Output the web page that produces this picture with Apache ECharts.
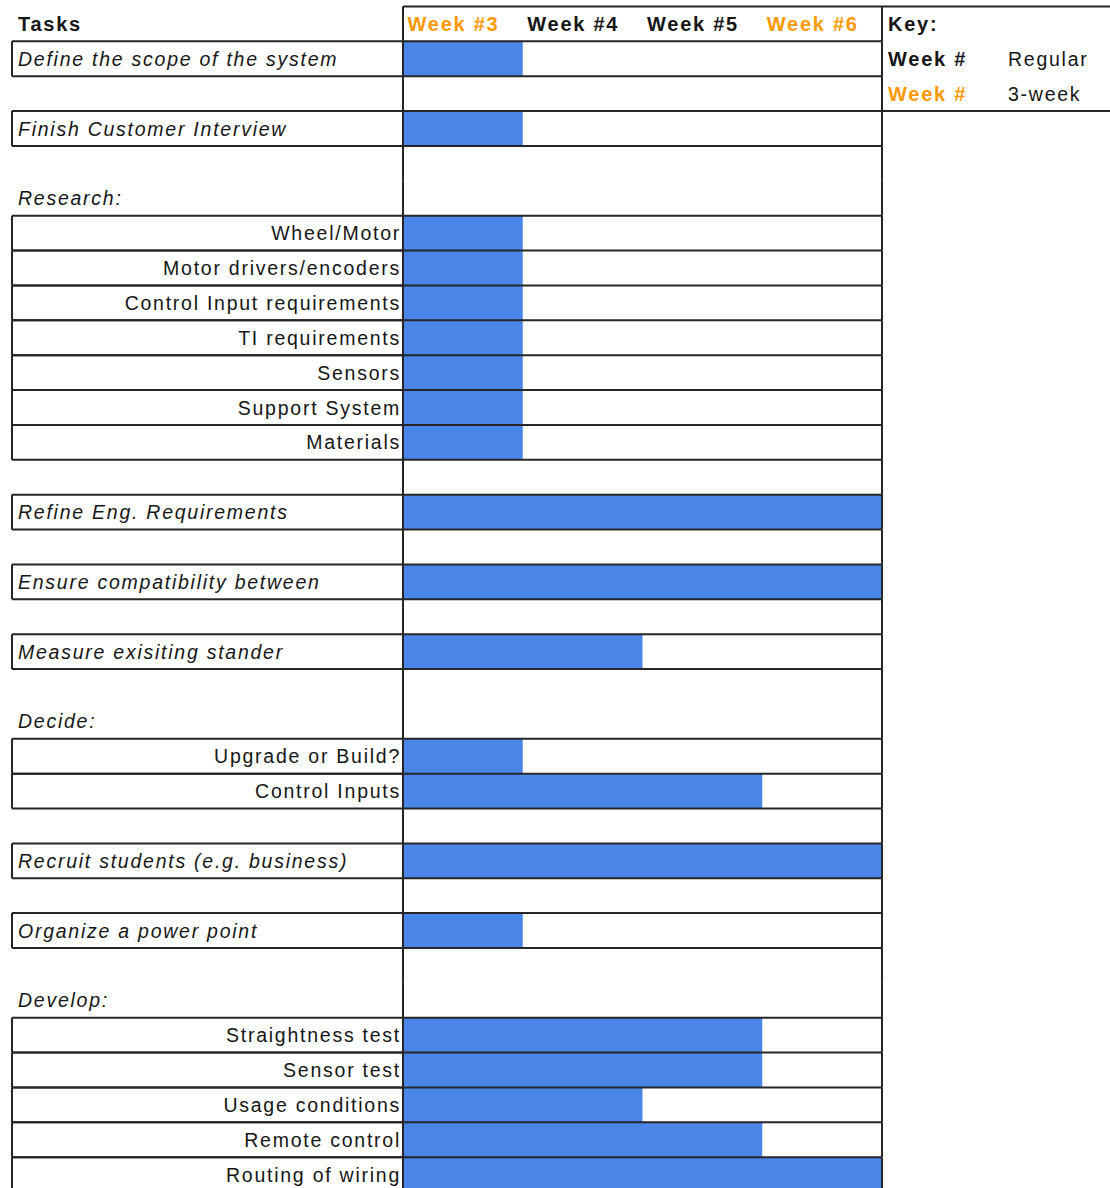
<!DOCTYPE html>
<html><head><meta charset="utf-8">
<script src="https://cdn.jsdelivr.net/npm/echarts@6/dist/echarts.min.js"></script>
<style>
html,body{margin:0;padding:0;background:#fff;}
#chart{width:1110px;height:1188px;}
#chart text{letter-spacing:1.75px;}
</style></head><body><div id="chart"></div>
<script>
// ---- data ----
const rowLabels = ['Tasks', 'Define the scope of the system', '', 'Finish Customer Interview', '', 'Research:',
  'Wheel/Motor', 'Motor drivers/encoders', 'Control Input requirements', 'TI requirements', 'Sensors', 'Support System', 'Materials',
  '', 'Refine Eng. Requirements', '', 'Ensure compatibility between', '', 'Measure exisiting stander', '',
  'Decide:', 'Upgrade or Build?', 'Control Inputs', '', 'Recruit students (e.g. business)', '', 'Organize a power point', '',
  'Develop:', 'Straightness test', 'Sensor test', 'Usage conditions', 'Remote control', 'Routing of wiring'];
const rowKinds = ['header', 'task', 'blank', 'task', 'blank', 'section',
  'sub', 'sub', 'sub', 'sub', 'sub', 'sub', 'sub',
  'blank', 'task', 'blank', 'task', 'blank', 'task', 'blank',
  'section', 'sub', 'sub', 'blank', 'task', 'blank', 'task', 'blank',
  'section', 'sub', 'sub', 'sub', 'sub', 'sub'];
// number of weeks (starting at Week #3) each task spans
const weeksDone = [null, 1, null, 1, null, null,
  1, 1, 1, 1, 1, 1, 1,
  null, 4, null, 4, null, 2, null,
  null, 1, 3, null, 4, null, 1, null,
  null, 3, 3, 2, 3, 4];
const weekLabels = ['Week #3', 'Week #4', 'Week #5', 'Week #6'];
const weekIsThreeWeek = [true, false, false, true];
const keyTitle = 'Key:';
const keyLabels = ['Week #', 'Week #'];
const keyDescs = ['Regular', '3-week'];
const keyIsThreeWeek = [false, true];

// ---- styling ----
const ROW_H = 34.87, TOP = 6.5;
const ORANGE = '#ff9900', BLUE = '#4a86e8', INK = '#161616', LINE = '#262626';
const FONT = '"Liberation Sans", Arial, sans-serif';
const nRows = rowLabels.length;
const cats = rowLabels.map((_, i) => 'r' + i);
const gridH = ROW_H * nRows;

function cell(api, x0, x1, row) {
  const a = api.coord([x0, row]);
  const b = api.coord([x1, row]);
  const h = api.size([0, 1])[1];
  return { x: a[0], x2: b[0], y: a[1] - h / 2, y2: a[1] + h / 2, h: h, cy: a[1] };
}
function hline(x1, x2, y) {
  return { type: 'line', shape: { x1: x1, y1: y, x2: x2, y2: y }, style: { stroke: LINE, lineWidth: 2 } };
}
function vline(x, y1, y2) {
  return { type: 'line', shape: { x1: x, y1: y1, x2: x, y2: y2 }, style: { stroke: LINE, lineWidth: 2 } };
}
function txt(x, y, s, o) {
  return {
    type: 'text', x: x, y: y,
    style: Object.assign({
      text: s, align: 'left', verticalAlign: 'middle', fontFamily: FONT,
      fontSize: 19.5, fontStyle: 'normal', fontWeight: 'normal', fill: INK
    }, o || {})
  };
}

const chart = echarts.init(document.getElementById('chart'), null, { renderer: 'svg' });

const yBase = { type: 'category', data: cats, inverse: true, show: false };

chart.setOption({
  animation: false,
  backgroundColor: '#fff',
  grid: [
    { left: 12, top: TOP, width: 391, height: gridH, outerBoundsMode: 'none', containLabel: false },
    { left: 403, top: TOP, width: 479, height: gridH, outerBoundsMode: 'none', containLabel: false },
    { left: 882, top: TOP, width: 252, height: gridH, outerBoundsMode: 'none', containLabel: false }
  ],
  xAxis: [
    { gridIndex: 0, type: 'value', min: 0, max: 1, show: false },
    { gridIndex: 1, type: 'value', min: 0, max: 4, show: false },
    { gridIndex: 2, type: 'value', min: 0, max: 2, show: false }
  ],
  yAxis: [
    Object.assign({ gridIndex: 0 }, yBase),
    Object.assign({ gridIndex: 1 }, yBase),
    Object.assign({ gridIndex: 2 }, yBase)
  ],
  series: [
    {
      type: 'bar', xAxisIndex: 1, yAxisIndex: 1, barWidth: '100%', z: 1, silent: true,
      itemStyle: { color: BLUE },
      data: weeksDone.map(v => v == null ? '-' : v)
    },
    {
      // task column: boxes and labels
      type: 'custom', xAxisIndex: 0, yAxisIndex: 0, z: 5, silent: true,
      encode: { x: 0, y: 1 },
      data: rowLabels.map((_, i) => [0, i]),
      renderItem: function (params, api) {
        const i = params.dataIndex, kind = rowKinds[i], label = rowLabels[i];
        const c = cell(api, 0, 1, i);
        const ch = [];
        if (kind === 'task' || kind === 'sub') {
          ch.push(hline(c.x, c.x2, c.y), hline(c.x, c.x2, c.y2), vline(c.x, c.y, c.y2));
        }
        if (label) {
          if (kind === 'sub') ch.push(txt(c.x2 - 2, c.cy, label, { align: 'right' }));
          else if (kind === 'header') ch.push(txt(c.x + 6, c.cy, label, { fontWeight: 'bold', fontSize: 20 }));
          else ch.push(txt(c.x + 6, c.cy, label, { fontStyle: 'italic' }));
        }
        return { type: 'group', children: ch };
      }
    },
    {
      // week area: borders and header
      type: 'custom', xAxisIndex: 1, yAxisIndex: 1, z: 5, silent: true,
      encode: { x: 0, y: 1 },
      data: rowLabels.map((_, i) => [0, i]),
      renderItem: function (params, api) {
        const i = params.dataIndex, kind = rowKinds[i];
        const c = cell(api, 0, weekLabels.length, i);
        const ch = [vline(c.x, c.y, c.y2), vline(c.x2, c.y, c.y2)];
        if (kind !== 'section') ch.push(hline(c.x, c.x2, c.y));
        if (i === nRows - 1) ch.push(hline(c.x, c.x2, c.y2));
        if (kind === 'header') {
          weekLabels.forEach((w, k) => {
            const x = api.coord([k, i])[0];
            ch.push(txt(x + 4.5, c.cy, w, { fontWeight: 'bold', fontSize: 20, fill: weekIsThreeWeek[k] ? ORANGE : INK }));
          });
        }
        return { type: 'group', children: ch };
      }
    },
    {
      // key box
      type: 'custom', xAxisIndex: 2, yAxisIndex: 2, z: 5, silent: true,
      encode: { x: 0, y: 1 },
      data: [[0, 0], [0, 1], [0, 2]],
      renderItem: function (params, api) {
        const i = params.dataIndex;
        const c = cell(api, 0, 2, i);
        const x1 = api.coord([1, i])[0];
        const ch = [];
        if (i === 0) {
          ch.push(hline(c.x, c.x2, c.y));
          ch.push(txt(c.x + 6, c.cy, keyTitle, { fontWeight: 'bold', fontSize: 20 }));
        } else {
          const k = i - 1;
          ch.push(txt(c.x + 6, c.cy, keyLabels[k], { fontWeight: 'bold', fontSize: 20, fill: keyIsThreeWeek[k] ? ORANGE : INK }));
          ch.push(txt(x1, c.cy, keyDescs[k], {}));
        }
        if (i === 2) ch.push(hline(c.x, c.x2, c.y2));
        return { type: 'group', children: ch };
      }
    }
  ]
});
</script></body></html>
